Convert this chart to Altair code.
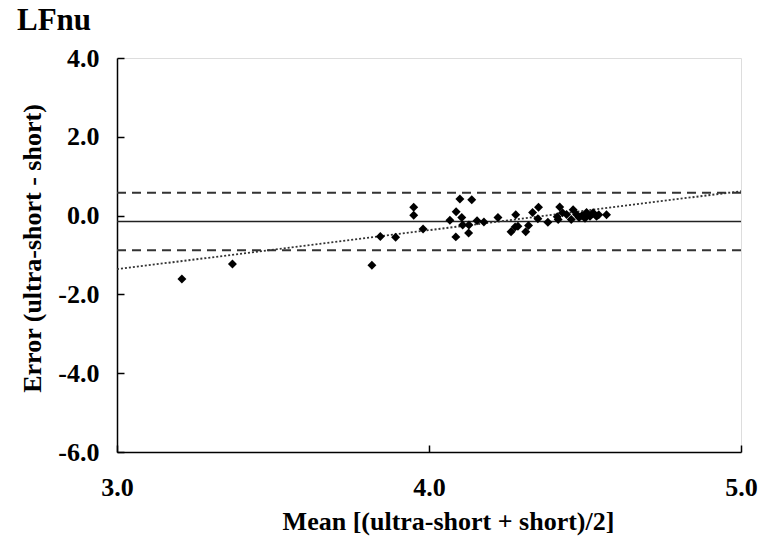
import altair as alt
import pandas as pd

# Bland-Altman data (mean of methods vs difference)
mean_x = [3.951, 3.951, 3.981, 3.844, 3.893, 3.817, 4.099, 4.137, 4.087, 4.105,
          4.067, 4.108, 4.128, 4.086, 4.127, 4.154, 4.176, 4.221, 4.278, 4.263,
          4.276, 4.285, 4.310, 4.319, 4.332, 4.351, 4.349, 4.381, 4.411, 4.419,
          4.414, 4.428, 4.441, 4.456, 4.462, 4.473, 4.481, 4.490, 4.505, 4.516,
          4.526, 4.544, 4.569, 4.500, 4.537, 3.208, 3.370]
diff_y = [0.21, 0.01, -0.34, -0.53, -0.55, -1.26, 0.42, 0.40, 0.10, -0.05,
          -0.12, -0.24, -0.24, -0.54, -0.44, -0.13, -0.16, -0.05, 0.02, -0.41,
          -0.29, -0.27, -0.41, -0.25, 0.08, 0.21, -0.08, -0.17, -0.03, 0.22,
          -0.10, 0.07, 0.03, -0.10, 0.15, 0.03, -0.05, 0.00, 0.08, -0.02,
          0.07, 0.02, 0.02, -0.07, -0.02, -1.61, -1.23]

bias = [-0.15]
limits = [0.58, -0.88]
reg_x = [3.0, 5.0]
reg_y = [-1.36, 0.62]

x_ticks = [3.0, 4.0, 5.0]
y_ticks = [-6.0, -4.0, -2.0, 0.0, 2.0, 4.0]

W, H = 624, 394
FONT = "Liberation Serif"
LABEL_EXPR = "(datum.value < 0 ? '-' : '') + format(abs(datum.value), '.1f')"

pts = pd.DataFrame({"x": mean_x, "y": diff_y})
bias_df = pd.DataFrame({"y": bias})
lim_df = pd.DataFrame({"y": limits})
reg_df = pd.DataFrame({"x": reg_x, "y": reg_y})

xscale = alt.Scale(domain=[3, 5], nice=False, zero=False)
yscale = alt.Scale(domain=[-6, 4], nice=False, zero=False)

main_x_axis = alt.Axis(
    values=x_ticks, labelExpr=LABEL_EXPR, ticks=False, grid=False,
    domainColor="black", domainWidth=1.5,
    labelFont=FONT, labelFontSize=26, labelFontWeight="bold", labelColor="black",
    labelPadding=22, labelFlush=False,
    title="Mean [(ultra-short + short)/2]",
    titleFont=FONT, titleFontSize=26, titleFontWeight="bold", titleColor="black",
    titleX=331, titleY=77, titleBaseline="alphabetic", titleAnchor="middle",
)
main_y_axis = alt.Axis(
    values=y_ticks, labelExpr=LABEL_EXPR, ticks=False, grid=False,
    domainColor="black", domainWidth=1.5,
    labelFont=FONT, labelFontSize=26, labelFontWeight="bold", labelColor="black",
    labelPadding=18, labelFlush=False,
    title="Error (ultra-short - short)",
    titleFont=FONT, titleFontSize=26, titleFontWeight="bold", titleColor="black",
    titleX=-72, titleY=190, titleAnchor="middle",
)

points = alt.Chart(pts).mark_point(
    shape="diamond", filled=True, size=80, color="black", opacity=1
).encode(
    x=alt.X("x:Q", scale=xscale, axis=main_x_axis),
    y=alt.Y("y:Q", scale=yscale, axis=main_y_axis),
)

# inward-pointing tick marks via mirrored axes
tick_layer = alt.Chart(pts).mark_point(opacity=0).encode(
    x=alt.X("x:Q", scale=xscale, axis=alt.Axis(
        orient="top", offset=-H, values=x_ticks, labels=False, domain=False,
        grid=False, ticks=True, tickSize=7, tickColor="black", tickWidth=1.5,
        title=None)),
    y=alt.Y("y:Q", scale=yscale, axis=alt.Axis(
        orient="right", offset=-W, values=y_ticks, labels=False, domain=False,
        grid=False, ticks=True, tickSize=7, tickColor="black", tickWidth=1.5,
        title=None)),
)

bias_rule = alt.Chart(bias_df).mark_rule(color="#222222", strokeWidth=1.6).encode(
    y=alt.Y("y:Q", scale=yscale, axis=None),
)
lim_rule = alt.Chart(lim_df).mark_rule(
    color="#333333", strokeWidth=2, strokeDash=[9, 6]
).encode(
    y=alt.Y("y:Q", scale=yscale, axis=None),
)
reg_line = alt.Chart(reg_df).mark_line(
    color="#333333", strokeWidth=1.8, strokeDash=[2, 2]
).encode(
    x=alt.X("x:Q", scale=xscale, axis=None),
    y=alt.Y("y:Q", scale=yscale, axis=None),
)

chart = alt.layer(
    lim_rule, bias_rule, reg_line, points, tick_layer
).resolve_axis(
    x="independent", y="independent"
).properties(
    width=W, height=H,
    title=alt.TitleParams(
        "LFnu", font=FONT, fontSize=31, fontWeight="bold", color="black",
        anchor="start", frame="group", dx=-100, offset=8,
    ),
    autosize=alt.AutoSizeParams(type="none"),
    padding={"left": 117, "top": 58, "right": 34, "bottom": 86},
).configure_view(stroke=None).configure(background="white")

chart.save("out.html", embed_options={"renderer": "svg", "actions": False})
